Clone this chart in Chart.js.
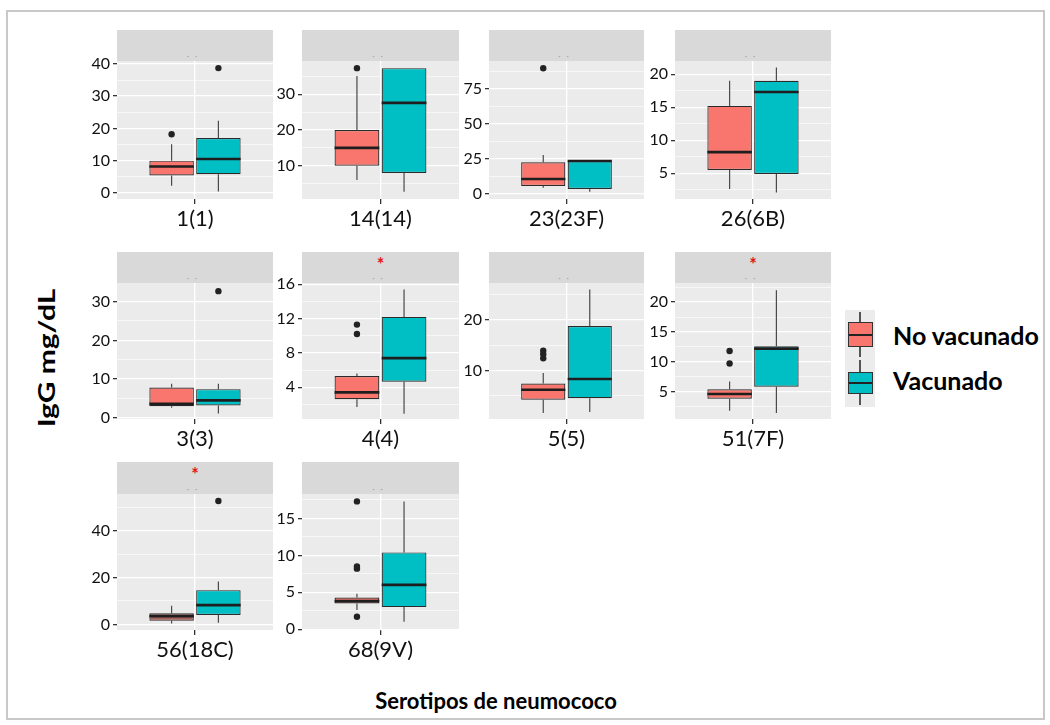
<!DOCTYPE html>
<html>
<head>
<meta charset="utf-8">
<script src="https://cdn.jsdelivr.net/npm/chart.js@4.4.1/dist/chart.umd.min.js"></script>
<style>
  body { margin: 0; width: 1050px; height: 725px; position: relative; overflow: hidden; background: #fff; font-family: Lato, sans-serif; }
  .frame { position: absolute; left: 6px; top: 10px; width: 1035px; height: 706px; border: 2px solid #c8c8c8; }
  .panel { position: absolute; }
  .panel canvas { position: absolute; left: 0; top: 0; }
  .strip { position: absolute; background: #d9d9d9; }
  .star { position: absolute; left: 0; right: 0; top: 3px; text-align: center; color: #e3141b; font-size: 18px; font-weight: bold; line-height: 18px; }
  .dots { position: absolute; left: 0; right: 0; bottom: 1px; text-align: center; color: #a8a8a8; font-size: 9px; line-height: 9px; letter-spacing: 6px; }
  .ytitle { position: absolute; left: 46px; top: 358px; white-space: nowrap; font-weight: bold; font-size: 26px; color: #000;
            transform: translate(-50%, -50%) rotate(-90deg) scale(1.15, 0.9); }
  .xtitle { position: absolute; left: 496px; top: 700px; white-space: nowrap; font-weight: bold; font-size: 22px; color: #000;
            transform: translate(-50%, -50%); }
  .key { position: absolute; left: 845px; top: 310px; width: 30px; height: 97px; background: #ececec; }
  .key div { position: absolute; }
  .wh { left: 14px; width: 1.5px; background: #555; }
  .kbox { left: 3px; width: 23px; border: 1px solid #333; }
  .kmed { left: 0; right: 0; height: 2px; background: #222; }
  .ltext { position: absolute; left: 893px; font-weight: bold; font-size: 25px; line-height: 28px; color: #000; white-space: nowrap; }
</style>
</head>
<body>
<div class="frame"></div>
<div id="charts"></div>
<div class="ytitle">IgG mg/dL</div>
<div class="xtitle">Serotipos de neumococo</div>
<div class="key">
  <div class="wh" style="top:2px;height:45px"></div>
  <div class="kbox" style="top:12px;height:23px;background:#F8766D"><div class="kmed" style="top:11px"></div></div>
  <div class="wh" style="top:50px;height:45px"></div>
  <div class="kbox" style="top:62px;height:20px;background:#00BFC4"><div class="kmed" style="top:9px"></div></div>
</div>
<div class="ltext" style="top:321px">No vacunado</div>
<div class="ltext" style="top:366px">Vacunado</div>
<script>
// serotypes, one panel each
const panels = ['1(1)', '14(14)', '23(23F)', '26(6B)', '3(3)', '4(4)', '5(5)', '51(7F)', '56(18C)', '68(9V)'];
const groups = ['No vacunado', 'Vacunado'];
const marked = ['4(4)', '51(7F)', '56(18C)'];

// No vacunado: whisker low, Q1, median, Q3, whisker high, outliers
const noVacLow = [2.2, 6.0, 4.5, 2.6, 2.6, 1.7, 1.6, 1.8, 0.4, 2.6];
const noVacQ1  = [5.4, 10.0, 5.7, 5.5, 3.0, 2.6, 4.2, 3.8, 1.5, 3.5];
const noVacMed = [8.2, 15.0, 10.7, 8.2, 3.6, 3.4, 6.2, 4.6, 3.5, 3.8];
const noVacQ3  = [10.0, 20.0, 22.6, 15.2, 7.8, 5.3, 7.4, 5.4, 4.7, 4.3];
const noVacHigh = [15.1, 35.1, 27.9, 19.0, 8.8, 5.6, 9.5, 6.7, 7.9, 4.8];
const noVacOut = [[18.2], [37.3], [89.8], [], [], [10.2, 11.3], [12.4, 13.2, 13.9], [9.7, 11.8], [], [1.7, 8.2, 8.5, 17.3]];

// Vacunado
const vacLow = [0.4, 2.7, 1.6, 2.1, 1.1, 0.9, 1.8, 1.4, 0.7, 1.0];
const vacQ1  = [5.8, 8.0, 3.6, 4.9, 3.2, 4.65, 4.5, 5.8, 4.0, 3.0];
const vacMed = [10.5, 27.6, 23.6, 17.3, 4.5, 7.4, 8.3, 12.2, 8.2, 6.0];
const vacQ3  = [17.0, 37.3, 23.6, 19.0, 7.4, 12.2, 18.8, 12.6, 14.6, 10.4];
const vacHigh = [22.4, 37.3, 23.6, 21.0, 8.8, 15.4, 26.0, 22.0, 18.3, 17.3];
const vacOut = [[38.7], [], [], [], [32.7], [], [], [], [52.6], []];

// y axis of each panel
const yMin = [-1.9, 0.7, -3.6, 1.1, -0.3, 0.3, 0.4, 0.4, -2.4, -0.1];
const yMax = [40.9, 39.3, 95, 22.0, 34.8, 16.15, 27.3, 23.2, 55.6, 18.3];
const yTicks = [[0, 10, 20, 30, 40], [10, 20, 30], [0, 25, 50, 75], [5, 10, 15, 20], [0, 10, 20, 30],
                [4, 8, 12, 16], [10, 20], [5, 10, 15, 20], [0, 20, 40], [0, 5, 10, 15]];

// layout of the facet grid
const colX = [117, 302, 489, 675];
const colW = [156, 157, 155, 156];
const stripTop = [30, 252, 462];
const stripH = [31, 31, 32];
const plotH = [138, 136, 136];
const axisW = 50, bottomH = 44;

const boxPlugin = {
  id: 'boxes',
  beforeDraw(chart) {
    const { ctx, chartArea: a } = chart;
    ctx.save();
    ctx.fillStyle = '#EBEBEB';
    ctx.fillRect(a.left, a.top, a.width, a.height);
    ctx.restore();
  },
  beforeDatasetsDraw(chart) {
    const { ctx, scales: { y } } = chart;
    ctx.save();
    ctx.strokeStyle = '#4a4a4a';
    ctx.lineWidth = 1.2;
    chart.data.datasets.forEach((ds, k) => {
      const bar = chart.getDatasetMeta(k).data[0];
      const [q1, q3] = ds.data[0];
      ctx.beginPath();
      ctx.moveTo(bar.x, y.getPixelForValue(ds.stats.hi));
      ctx.lineTo(bar.x, y.getPixelForValue(q3));
      ctx.moveTo(bar.x, y.getPixelForValue(q1));
      ctx.lineTo(bar.x, y.getPixelForValue(ds.stats.lo));
      ctx.stroke();
    });
    ctx.restore();
  },
  afterDatasetsDraw(chart) {
    const { ctx, scales: { y } } = chart;
    ctx.save();
    chart.data.datasets.forEach((ds, k) => {
      const bar = chart.getDatasetMeta(k).data[0];
      const ym = y.getPixelForValue(ds.stats.med);
      ctx.strokeStyle = '#1e1e1e';
      ctx.lineWidth = 2.6;
      ctx.beginPath();
      ctx.moveTo(bar.x - bar.width / 2, ym);
      ctx.lineTo(bar.x + bar.width / 2, ym);
      ctx.stroke();
      ctx.fillStyle = '#222';
      ds.stats.out.forEach(v => {
        ctx.beginPath();
        ctx.arc(bar.x, y.getPixelForValue(v), 3.2, 0, Math.PI * 2);
        ctx.fill();
      });
    });
    ctx.restore();
  }
};

Chart.defaults.font.family = 'Lato, sans-serif';

const holder = document.getElementById('charts');

panels.forEach((name, i) => {
  const col = i % 4, row = Math.floor(i / 4);
  const w = axisW + colW[col];
  const h = stripH[row] + plotH[row] + bottomH;

  const div = document.createElement('div');
  div.className = 'panel';
  div.style.cssText = `left:${colX[col] - axisW}px;top:${stripTop[row]}px;width:${w}px;height:${h}px`;

  const strip = document.createElement('div');
  strip.className = 'strip';
  strip.style.cssText = `left:${axisW}px;top:0;width:${colW[col]}px;height:${stripH[row]}px`;
  strip.innerHTML = (marked.includes(name) ? '<div class="star">*</div>' : '') + '<div class="dots">··</div>';
  div.appendChild(strip);

  const canvas = document.createElement('canvas');
  canvas.width = w;
  canvas.height = h;
  div.appendChild(canvas);
  holder.appendChild(div);

  // major ticks plus minor ones halfway between
  const majors = yTicks[i];
  const step = (majors[1] - majors[0]) / 2;
  const allTicks = [];
  for (let v = majors[0] - step; v <= yMax[i]; v += step) {
    if (v >= yMin[i]) allTicks.push(v);
  }
  const isMajor = v => majors.some(m => Math.abs(m - v) < 1e-6);

  const stats = [
    { lo: noVacLow[i], med: noVacMed[i], hi: noVacHigh[i], out: noVacOut[i] },
    { lo: vacLow[i], med: vacMed[i], hi: vacHigh[i], out: vacOut[i] }
  ];
  const q1s = [noVacQ1[i], vacQ1[i]];
  const q3s = [noVacQ3[i], vacQ3[i]];
  const fills = [name === '56(18C)' ? '#A3615B' : '#F8766D', '#00BFC4'];

  new Chart(canvas, {
    type: 'bar',
    data: {
      labels: [name],
      datasets: groups.map((g, k) => ({
        label: g,
        data: [[q1s[k], q3s[k]]],
        stats: stats[k],
        backgroundColor: fills[k],
        borderColor: '#2b2b2b',
        borderWidth: 1.2,
        borderSkipped: false,
        categoryPercentage: 0.6,
        barPercentage: 0.95
      }))
    },
    options: {
      responsive: false,
      animation: false,
      devicePixelRatio: 1,
      layout: { padding: { top: stripH[row], left: 0, right: 0, bottom: 0 } },
      plugins: { legend: { display: false }, tooltip: { enabled: false } },
      scales: {
        x: {
          offset: true,
          border: { display: false },
          grid: { offset: false, color: '#fff', lineWidth: 1.3, tickLength: 5, tickColor: '#333' },
          ticks: { font: { size: 22 }, color: '#111', padding: 2 },
          afterFit: s => { s.height = bottomH; }
        },
        y: {
          min: yMin[i],
          max: yMax[i],
          border: { display: false },
          afterBuildTicks: s => { s.ticks = allTicks.map(v => ({ value: v })); },
          grid: {
            color: '#fff',
            lineWidth: c => (c.tick && isMajor(c.tick.value) ? 1.3 : 0.6),
            tickLength: 4,
            tickColor: c => (c.tick && isMajor(c.tick.value) ? '#333' : 'rgba(0,0,0,0)')
          },
          ticks: {
            autoSkip: false,
            font: { size: 16 },
            color: '#111',
            padding: 3,
            callback: v => (isMajor(v) ? String(v) : '')
          },
          afterFit: s => { s.width = axisW; }
        }
      }
    },
    plugins: [boxPlugin]
  });
});
</script>
</body>
</html>
